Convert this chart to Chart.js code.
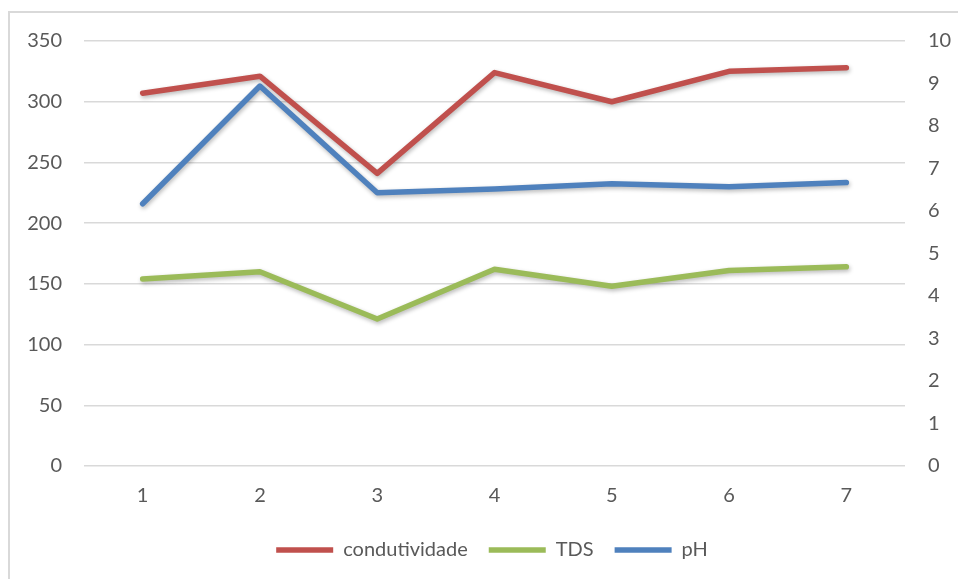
<!DOCTYPE html>
<html>
<head>
<meta charset="utf-8">
<script src="https://cdn.jsdelivr.net/npm/chart.js@4"></script>
<style>
    html, body { margin: 0; padding: 0; background: #fff; }
    #moldura { position: absolute; left: 8px; top: 11px; width: 960px; height: 580px; border-left: 2px solid #d9d9d9; border-top: 2px solid #d9d9d9; }
    #caixa { position: absolute; left: 0; top: 0; width: 958px; height: 579px; }
</style>
</head>
<body>
<div id="moldura"></div>
<div id="caixa"><canvas id="grafico"></canvas></div>
<script>
const amostras = ["1", "2", "3", "4", "5", "6", "7"];
const condutividade = [307, 321, 241, 324, 300, 325, 328];
const tds = [154, 160, 121, 162, 148, 161, 164];
const ph = [6.17, 8.94, 6.43, 6.52, 6.64, 6.57, 6.67];

const ticksEsq = [0, 50, 100, 150, 200, 250, 300, 350];
const ticksDir = [0, 1, 2, 3, 4, 5, 6, 7, 8, 9, 10];

const fonte = { family: "Lato, 'Noto Sans', sans-serif", size: 20 };
const cinza = "#595959";

const sombra = {
    id: "sombra",
    beforeDatasetDraw(chart) {
        const ctx = chart.ctx;
        ctx.save();
        ctx.shadowColor = "rgba(0,0,0,0.28)";
        ctx.shadowBlur = 4;
        ctx.shadowOffsetY = 2;
        ctx.shadowOffsetX = 1;
    },
    afterDatasetDraw(chart) {
        chart.ctx.restore();
    }
};

// a legenda do Excel fica um pouco à direita do centro
const desviaLegenda = {
    id: "desviaLegenda",
    afterLayout(chart) {
        chart.legend.left += 13;
        chart.legend.right += 13;
    }
};

function serie(label, dados, cor, eixo, ordem) {
    return {
        label, data: dados, borderColor: cor, backgroundColor: cor,
        borderWidth: 5.5, borderCapStyle: "round", borderJoinStyle: "round",
        pointRadius: 0, pointHoverRadius: 0, tension: 0, yAxisID: eixo, order: ordem
    };
}

new Chart(document.getElementById("grafico"), {
    type: "line",
    data: {
        labels: amostras,
        datasets: [
            serie("condutividade", condutividade, "#C0504D", "y", 3),
            serie("TDS", tds, "#9BBB59", "y", 2),
            serie("pH", ph, "#4F81BD", "y2", 1)
        ]
    },
    options: {
        animation: false,
        responsive: true,
        maintainAspectRatio: false,
        layout: { padding: { top: 41, bottom: 9, left: 0, right: 0 } },
        plugins: {
            tooltip: { enabled: false },
            legend: {
                position: "bottom",
                labels: {
                    usePointStyle: true,
                    pointStyle: "line",
                    pointStyleWidth: 57,
                    padding: 21,
                    color: cinza,
                    font: fonte,
                    sort: (a, b) => a.datasetIndex - b.datasetIndex
                }
            }
        },
        scales: {
            x: {
                offset: true,
                grid: { display: false, offset: true },
                border: { display: false },
                ticks: { color: cinza, font: fonte, padding: 10 },
                afterFit: (s) => { s.height = 53; }
            },
            y: {
                position: "left",
                min: 0, max: 350,
                afterBuildTicks: (s) => { s.ticks = ticksEsq.map(v => ({ value: v })); },
                grid: { color: "#d9d9d9", lineWidth: 1.5, drawTicks: false },
                border: { display: false },
                ticks: { color: cinza, font: fonte, padding: 22 },
                afterFit: (s) => { s.width = 84; }
            },
            y2: {
                position: "right",
                min: 0, max: 10,
                afterBuildTicks: (s) => { s.ticks = ticksDir.map(v => ({ value: v })); },
                grid: { display: false },
                border: { display: false },
                ticks: { color: cinza, font: fonte, padding: 15 },
                afterFit: (s) => { s.width = 53; }
            }
        }
    },
    plugins: [sombra, desviaLegenda]
});
</script>
</body>
</html>
